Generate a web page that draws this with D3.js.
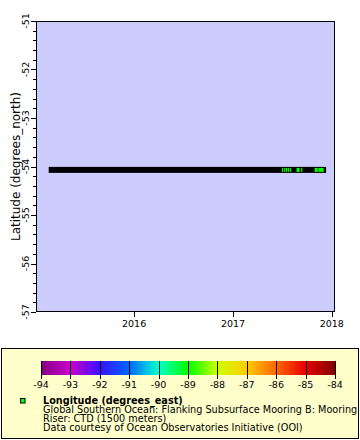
<!DOCTYPE html>
<html><head><meta charset="utf-8">
<script src="https://cdn.jsdelivr.net/npm/d3@7"></script>
<style>body{margin:0;background:#fff}svg{display:block;font-family:"DejaVu Sans",sans-serif}</style>
</head><body><svg id="c" width="360" height="440"></svg>
<script>
const xDomain = ["2015-01-03", "2018-01-13"];
const yDomain = [-57, -51];
const xTicks = ["2016-01-01", "2017-01-01", "2018-01-01"];
const xTickLabels = ["2016", "2017", "2018"];
const yTicks = [-57, -56, -55, -54, -53, -52, -51];
const trackStart = "2015-03-02";
const trackEnd = "2017-11-30";
const trackLat = -54.07;
const greenRunStarts = ["2017-07-03","2017-07-11","2017-07-18","2017-07-25","2017-08-02","2017-08-26","2017-09-12","2017-11-01","2017-11-15"];
const greenRunEnds   = ["2017-07-03","2017-07-11","2017-07-18","2017-07-25","2017-08-02","2017-09-02","2017-09-12","2017-11-08","2017-11-30"];
const greenLon = -89;
const cbTicks = [-94,-93,-92,-91,-90,-89,-88,-87,-86,-85,-84];
const cbColors = ["#800080","#cc00cc","#3a10ff","#0066ff","#00ffcc","#00ff00","#ccff00","#ffcc00","#ff6600","#e80000","#800000"];
const legendLines = ["Global Southern Ocean: Flanking Subsurface Mooring B: Mooring","Riser: CTD (1500 meters)","Data courtesy of Ocean Observatories Initiative (OOI)"];

const svg = d3.select("#c");
const P = {l:36, r:335, t:21, b:312};
const pd = d3.timeParse("%Y-%m-%d");
const x = d3.scaleTime().domain(xDomain.map(pd)).range([P.l, P.r]);
const y = d3.scaleLinear().domain(yDomain).range([P.b, P.t]);
const cscale = d3.scaleLinear().domain(cbTicks).range(cbColors);

svg.append("rect").attr("x",P.l).attr("y",P.t).attr("width",P.r-P.l).attr("height",P.b-P.t).attr("fill","#ccccff");

// track
const ty = y(trackLat);
svg.append("rect").attr("x",x(pd(trackStart))-3).attr("y",ty-3).attr("width",x(pd(trackEnd))-x(pd(trackStart))+6).attr("height",6).attr("fill","#000");
svg.selectAll(".g").data(greenRunStarts.map((s,i)=>[pd(s),pd(greenRunEnds[i])])).enter().append("rect")
  .attr("x",d=>x(d[0])-0.6).attr("y",ty-2).attr("width",d=>Math.max(1.2,x(d[1])-x(d[0])+1.2)).attr("height",4).attr("fill",cscale(greenLon));

// frame
svg.append("rect").attr("x",P.l+0.5).attr("y",P.t+0.5).attr("width",P.r-P.l-1).attr("height",P.b-P.t-1).attr("fill","none").attr("stroke","#000");

// y axis
const yMinor = d3.range(-57, -51.0001, 0.2);
svg.selectAll(".ym").data(yMinor).enter().append("line").attr("x1",P.l-3).attr("x2",P.l).attr("y1",d=>Math.round(y(d))+0.5).attr("y2",d=>Math.round(y(d))+0.5).attr("stroke","#000");
svg.selectAll(".yM").data(yTicks).enter().append("line").attr("x1",P.l-5).attr("x2",P.l).attr("y1",d=>Math.round(y(d))+0.5).attr("y2",d=>Math.round(y(d))+0.5).attr("stroke","#000");
svg.selectAll(".yl").data(yTicks).enter().append("text").attr("transform",d=>`translate(28.5,${y(d)}) rotate(-90)`).attr("text-anchor","middle").attr("font-size",9.5).text(d=>d);
svg.append("text").attr("transform",`translate(20,${(P.t+P.b)/2}) rotate(-90)`).attr("text-anchor","middle").attr("font-size",12).text("Latitude (degrees_north)");

// x axis
svg.selectAll(".xM").data(xTicks.map(pd)).enter().append("line").attr("x1",d=>Math.round(x(d))+0.5).attr("x2",d=>Math.round(x(d))+0.5).attr("y1",P.b).attr("y2",P.b+5).attr("stroke","#000");
svg.selectAll(".xl").data(xTicks.map(pd)).enter().append("text").attr("x",d=>x(d)).attr("y",327).attr("text-anchor","middle").attr("font-size",9.5).text((d,i)=>xTickLabels[i]);

// legend
svg.append("rect").attr("x",1.5).attr("y",348.5).attr("width",357).attr("height",90).attr("fill","#ffffcc").attr("stroke","#000");
const cb = {l:41, r:335, t:361, b:375};
const defs = svg.append("defs");
const lg = defs.append("linearGradient").attr("id","cbg");
cbTicks.forEach((t,i)=>lg.append("stop").attr("offset",(i/(cbTicks.length-1)*100)+"%").attr("stop-color",cbColors[i]));
svg.append("rect").attr("x",cb.l).attr("y",cb.t).attr("width",cb.r-cb.l).attr("height",cb.b-cb.t).attr("fill","url(#cbg)");
const cx = d3.scaleLinear().domain([-94,-84]).range([cb.l, cb.r]);
svg.selectAll(".ct").data(cbTicks).enter().append("line").attr("x1",d=>Math.round(cx(d))+0.5).attr("x2",d=>Math.round(cx(d))+0.5).attr("y1",cb.t).attr("y2",cb.b+4).attr("stroke","#000");
svg.selectAll(".cl").data(cbTicks).enter().append("text").attr("x",d=>cx(d)).attr("y",388).attr("text-anchor","middle").attr("font-size",9.5).text(d=>d);
svg.append("rect").attr("x",20.5).attr("y",398.5).attr("width",4.5).attr("height",4.5).attr("fill",cscale(greenLon)).attr("stroke","#000");
svg.append("text").attr("x",43).attr("y",403.5).attr("font-size",9.7).attr("font-weight","bold").text("Longitude (degrees_east)");
legendLines.forEach((t,i)=>svg.append("text").attr("x",43).attr("y",412.5+9*i).attr("font-size",9.7).text(t));
</script></body></html>
